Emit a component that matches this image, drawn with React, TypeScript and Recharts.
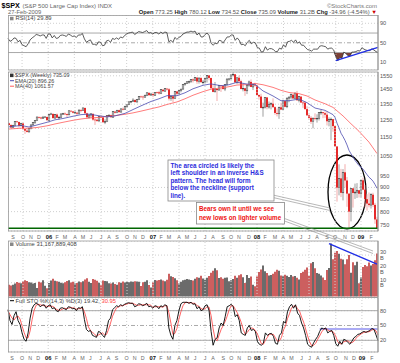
import React from 'react';
import {
  ComposedChart, Bar, Line, Area, XAxis, YAxis, CartesianGrid,
  ReferenceLine, ReferenceArea, Cell,
} from 'recharts';

// weekly bars, week ending Fri 19-Aug-2005 ... Fri 27-Feb-2009
const firstOpen = 1230;
const closes = [
  1219.7, 1205.1, 1218.0, 1241.5, 1237.9, 1215.3, 1228.8, 1195.9, 1186.6, 1179.6,
  1198.4, 1220.1, 1234.7, 1248.3, 1268.3, 1265.1, 1259.4, 1267.3, 1268.7, 1248.3,
  1285.5, 1287.6, 1261.5, 1283.7, 1264.0, 1267.0, 1287.2, 1289.4, 1287.2, 1281.4,
  1307.3, 1303.0, 1294.9, 1295.5, 1289.1, 1311.3, 1310.6, 1325.8, 1291.2, 1267.0,
  1280.2, 1288.2, 1252.3, 1251.5, 1244.5, 1270.2, 1265.5, 1236.2, 1240.3, 1278.6,
  1279.4, 1266.7, 1302.3, 1295.1, 1311.0, 1298.9, 1319.7, 1314.8, 1335.9, 1349.6,
  1365.6, 1368.6, 1377.3, 1364.3, 1380.9, 1401.2, 1400.6, 1396.7, 1409.8, 1427.1,
  1410.8, 1418.3, 1409.7, 1430.7, 1430.5, 1422.2, 1448.4, 1438.1, 1455.5, 1451.2,
  1387.2, 1402.8, 1387.0, 1436.1, 1420.9, 1443.8, 1452.9, 1484.4, 1494.1, 1505.6,
  1505.9, 1522.8, 1515.7, 1536.3, 1507.7, 1532.9, 1502.6, 1503.4, 1530.4, 1552.5,
  1534.1, 1459.0, 1433.1, 1453.6, 1445.9, 1479.4, 1474.0, 1453.6, 1484.3, 1525.8,
  1526.8, 1557.6, 1561.8, 1500.6, 1535.3, 1509.7, 1453.7, 1458.7, 1440.7, 1481.1,
  1504.7, 1468.0, 1484.5, 1478.5, 1411.6, 1401.0, 1325.2, 1330.6, 1395.4, 1331.3,
  1350.0, 1353.1, 1330.6, 1293.4, 1288.1, 1329.5, 1315.2, 1370.4, 1332.8, 1390.3,
  1397.8, 1413.9, 1388.3, 1425.4, 1375.9, 1400.4, 1360.7, 1360.0, 1317.9, 1278.4,
  1262.9, 1239.5, 1260.7, 1257.8, 1260.3, 1296.3, 1298.2, 1292.2, 1282.8, 1242.3,
  1251.7, 1255.1, 1213.3, 1099.2, 899.2, 940.6, 876.8, 968.8, 931.0, 873.3,
  800.0, 896.2, 876.1, 879.7, 887.9, 872.8, 931.8, 890.4, 850.1, 832.0,
  825.9, 868.6, 826.8, 770.1, 735.09,
];
const highs = [
  1234, 1225, 1221, 1243, 1245, 1240, 1233, 1234, 1198, 1198,
  1201, 1224, 1237, 1249, 1270, 1272, 1270, 1275, 1273, 1270,
  1287, 1295, 1290, 1286, 1290, 1275, 1290, 1294, 1297, 1289,
  1310, 1310, 1306, 1309, 1296, 1318, 1318, 1326, 1326, 1295,
  1286, 1291, 1289, 1262, 1258, 1272, 1280, 1273, 1254, 1280,
  1286, 1283, 1303, 1302, 1312, 1314, 1320, 1329, 1340, 1350,
  1367, 1371, 1390, 1382, 1383, 1403, 1407, 1407, 1415, 1431,
  1428, 1427, 1430, 1432, 1435, 1441, 1449, 1453, 1457, 1461,
  1460, 1410, 1409, 1438, 1439, 1445, 1453, 1485, 1498, 1510,
  1514, 1523, 1530, 1540, 1540, 1539, 1541, 1518, 1531, 1556,
  1555, 1534, 1488, 1504, 1456, 1480, 1481, 1481, 1485, 1530,
  1532, 1561, 1576, 1563, 1536, 1552, 1521, 1492, 1461, 1488,
  1515, 1523, 1485, 1499, 1472, 1416, 1420, 1360, 1396, 1395,
  1368, 1362, 1389, 1336, 1321, 1334, 1359, 1380, 1376, 1395,
  1400, 1422, 1416, 1426, 1440, 1406, 1406, 1370, 1370, 1336,
  1285, 1274, 1266, 1291, 1285, 1297, 1314, 1300, 1304, 1304,
  1266, 1265, 1255, 1215, 1097, 1007, 985, 984, 1008, 947,
  875, 896, 896, 917, 919, 888, 935, 944, 911, 871,
  878, 875, 877, 835, 780.12,
];
const lows = [
  1216, 1201, 1201, 1217, 1232, 1205, 1211, 1191, 1168, 1176,
  1175, 1194, 1217, 1226, 1246, 1258, 1254, 1256, 1262, 1248,
  1245, 1280, 1258, 1258, 1262, 1253, 1262, 1283, 1280, 1268,
  1280, 1298, 1291, 1290, 1280, 1284, 1298, 1308, 1290, 1256,
  1258, 1262, 1245, 1220, 1238, 1237, 1262, 1234, 1225, 1237,
  1268, 1264, 1266, 1290, 1292, 1295, 1297, 1310, 1313, 1327,
  1345, 1358, 1366, 1360, 1362, 1379, 1395, 1379, 1395, 1406,
  1405, 1408, 1397, 1405, 1420, 1415, 1418, 1433, 1435, 1443,
  1374, 1372, 1364, 1384, 1411, 1416, 1431, 1449, 1476, 1490,
  1491, 1497, 1500, 1513, 1490, 1492, 1500, 1485, 1503, 1500,
  1517, 1457, 1431, 1432, 1371, 1445, 1433, 1449, 1439, 1477,
  1513, 1523, 1546, 1500, 1489, 1492, 1450, 1437, 1406, 1418,
  1469, 1467, 1446, 1471, 1411, 1380, 1323, 1270, 1322, 1317,
  1321, 1316, 1326, 1282, 1272, 1257, 1312, 1315, 1330, 1324,
  1363, 1383, 1386, 1386, 1373, 1362, 1359, 1326, 1315, 1277,
  1253, 1226, 1200, 1248, 1234, 1247, 1282, 1261, 1263, 1217,
  1212, 1133, 1180, 1099, 840, 866, 859, 845, 900, 819,
  741, 763, 816, 851, 855, 857, 857, 888, 817, 804,
  817, 812, 818, 754, 734.52,
];
// weekly volume, billions of shares
const volumes = [
  8.5, 8.0, 8.6, 9.5, 10.5, 10.0, 9.6, 11.0, 11.8, 11.2,
  10.4, 10.2, 9.4, 9.8, 6.2, 10.6, 10.2, 11.8, 7.8, 6.0,
  9.8, 11.6, 12.8, 11.5, 11.0, 10.6, 10.0, 9.6, 10.4, 11.2,
  11.8, 10.2, 10.6, 9.4, 9.8, 10.8, 10.4, 11.0, 12.4, 13.2,
  10.6, 9.8, 12.6, 12.2, 11.4, 10.0, 8.2, 11.6, 11.2, 11.0,
  9.6, 9.4, 10.2, 9.0, 8.6, 10.4, 10.0, 10.8, 10.2, 10.6,
  10.4, 10.8, 10.6, 11.0, 10.8, 10.6, 7.6, 10.4, 10.6, 11.8,
  8.4, 6.6, 10.2, 12.0, 11.6, 12.0, 12.4, 11.6, 11.0, 12.2,
  16.4, 14.6, 14.2, 13.2, 11.8, 9.4, 10.6, 11.8, 12.2, 12.6,
  12.4, 12.0, 11.6, 12.8, 14.0, 13.6, 15.0, 13.0, 12.2, 13.6,
  14.8, 17.2, 18.6, 20.4, 19.0, 13.4, 14.0, 12.8, 13.6, 13.8,
  11.0, 11.8, 12.6, 15.0, 13.6, 15.4, 16.2, 14.0, 9.8, 15.6,
  13.4, 14.4, 8.6, 7.4, 14.4, 17.8, 19.6, 22.4, 18.2, 17.0,
  15.2, 15.6, 16.4, 18.0, 19.4, 18.6, 15.2, 14.6, 15.8, 15.0,
  14.2, 15.6, 14.4, 14.8, 13.6, 12.4, 17.0, 18.0, 19.4, 21.0,
  15.0, 24.0, 25.0, 20.4, 17.0, 16.4, 15.2, 13.8, 12.0, 19.2,
  20.6, 38.4, 27.0, 31.6, 33.0, 31.0, 27.4, 26.8, 23.4, 27.0,
  30.0, 17.2, 24.8, 22.6, 25.2, 9.6, 13.8, 21.4, 22.8, 22.0,
  24.6, 22.4, 23.6, 26.2, 31.2,
];
const rsi = [
  59, 53, 55, 60, 59, 52, 55, 46, 44, 42,
  48, 56, 60, 63, 67, 66, 64, 66, 66, 59,
  68, 68, 60, 65, 59, 60, 65, 66, 65, 63,
  68, 66, 63, 64, 61, 66, 66, 69, 58, 51,
  54, 56, 47, 47, 45, 52, 51, 44, 45, 54,
  55, 51, 59, 57, 60, 57, 62, 60, 65, 68,
  70, 71, 72, 67, 70, 73, 72, 71, 73, 75,
  70, 71, 68, 71, 71, 68, 72, 69, 72, 71,
  52, 55, 51, 61, 57, 61, 63, 68, 70, 72,
  72, 74, 72, 74, 66, 70, 62, 62, 67, 70,
  65, 49, 45, 49, 48, 55, 54, 50, 56, 62,
  62, 66, 66, 55, 60, 55, 46, 47, 44, 51,
  55, 48, 51, 50, 40, 39, 31, 32, 42, 35,
  38, 38, 36, 32, 32, 39, 37, 46, 41, 52,
  53, 55, 51, 56, 49, 52, 45, 45, 40, 36,
  35, 33, 37, 37, 37, 43, 44, 43, 42, 37,
  39, 39, 35, 22, 13, 20, 18, 31, 28, 24,
  22, 31, 31, 32, 34, 33, 40, 37, 35, 34,
  34, 38, 35, 32, 29.89,
];
const stoK = [
  82, 60, 52, 70, 78, 60, 52, 35, 22, 18,
  35, 65, 85, 92, 95, 93, 88, 91, 92, 85,
  90, 92, 84, 86, 80, 78, 85, 86, 84, 82,
  88, 87, 84, 85, 80, 86, 85, 88, 62, 42,
  38, 40, 30, 28, 26, 38, 36, 30, 26, 40,
  60, 65, 82, 86, 90, 88, 92, 90, 93, 95,
  96, 95, 95, 88, 90, 94, 93, 90, 92, 95,
  88, 89, 85, 90, 89, 84, 90, 88, 92, 90,
  45, 30, 22, 50, 60, 80, 94, 97, 97, 97,
  95, 97, 93, 94, 84, 88, 80, 82, 90, 92,
  80, 38, 10, 22, 25, 45, 55, 50, 68, 88,
  90, 93, 88, 68, 72, 60, 35, 32, 30, 45,
  50, 40, 42, 38, 18, 12, 10, 14, 35, 30,
  33, 34, 28, 14, 12, 30, 35, 58, 55, 78,
  88, 93, 85, 92, 75, 70, 55, 45, 30, 12,
  8, 6, 15, 22, 28, 38, 45, 43, 45, 35,
  38, 40, 30, 13, 8, 18, 12, 22, 20, 16,
  12, 18, 25, 28, 32, 33, 36, 38, 36, 38,
  40, 44, 42, 31, 19.42,
];
const stoD = [
  80, 72, 65, 61, 67, 69, 63, 49, 36, 25,
  25, 39, 62, 81, 91, 93, 92, 91, 90, 89,
  89, 89, 89, 87, 83, 81, 81, 83, 85, 84,
  85, 86, 86, 85, 83, 84, 84, 86, 78, 64,
  47, 40, 36, 33, 28, 31, 33, 35, 31, 32,
  42, 55, 69, 78, 86, 88, 90, 90, 92, 93,
  95, 95, 95, 93, 91, 91, 92, 92, 92, 92,
  92, 91, 87, 88, 88, 88, 88, 87, 90, 90,
  76, 55, 32, 34, 44, 63, 78, 90, 96, 97,
  96, 96, 95, 95, 90, 89, 84, 83, 84, 88,
  87, 70, 43, 23, 19, 31, 42, 50, 58, 69,
  82, 90, 90, 83, 76, 67, 56, 42, 32, 36,
  42, 45, 44, 40, 33, 23, 13, 12, 20, 26,
  33, 32, 32, 25, 18, 19, 26, 41, 49, 64,
  74, 86, 89, 90, 84, 79, 67, 57, 43, 29,
  17, 9, 10, 14, 22, 29, 37, 42, 44, 41,
  39, 38, 36, 28, 17, 13, 13, 17, 18, 19,
  16, 15, 18, 24, 28, 31, 34, 36, 37, 37,
  38, 41, 42, 39, 30.95,
];
const emaWeeks = [
  0, 1, 6, 10, 14, 19, 23, 27, 32, 36, 40, 45, 49, 53, 58, 62, 66, 71, 75, 79,
  84, 88, 92, 97, 101, 106, 110, 114, 119, 123, 127, 132, 136, 140, 145, 149, 153, 158, 162, 163,
  164, 165, 166, 167, 168, 169, 170, 171, 172, 173, 174, 175, 176, 177, 178, 179, 180, 181, 182, 183, 184,
];
const emaValues = [
  1209, 1210, 1217, 1208, 1220, 1236, 1251, 1259, 1273, 1283, 1286, 1276, 1269, 1275, 1291, 1315, 1339, 1368, 1386, 1407,
  1407, 1427, 1455, 1480, 1490, 1477, 1484, 1502, 1489, 1487, 1440, 1405, 1373, 1373, 1384, 1360, 1325, 1310, 1283, 1266,
  1231, 1203, 1172, 1153, 1132, 1107, 1078, 1060, 1043, 1027, 1014, 1001, 994, 984, 971, 958, 946, 938, 928, 913, 896.26,
];
const maWeeks = [
  0, 1, 6, 10, 14, 19, 23, 27, 32, 36, 40, 45, 49, 53, 58, 62, 66, 71, 75, 79, 84, 88,
  92, 97, 101, 106, 110, 114, 119, 123, 127, 132, 136, 140, 145, 149, 153, 158, 162, 167, 171, 175, 180, 184,
];
const maValues = [
  1196, 1197, 1201, 1201, 1205, 1215, 1226, 1236, 1248, 1256, 1262, 1266, 1272, 1277, 1285, 1294, 1305, 1320, 1332, 1348, 1365, 1386,
  1410, 1435, 1452, 1461, 1470, 1482, 1485, 1493, 1484, 1465, 1444, 1429, 1421, 1405, 1378, 1353, 1329, 1275, 1227, 1183, 1122, 1061.57,
];
const monthWeeks = [
  2, 7, 11, 15, 20, 24, 28, 33, 37, 41, 46, 50, 54, 59, 63, 67, 72, 76, 80, 85, 89,
  93, 98, 102, 107, 111, 115, 120, 124, 128, 133, 137, 141, 146, 150, 154, 159, 163, 168, 172, 176, 181,
];
const monthLabels = [
  'S', 'O', 'N', 'D', '06', 'F', 'M', 'A', 'M', 'J', 'J', 'A', 'S', 'O', 'N', 'D', '07', 'F', 'M', 'A', 'M',
  'J', 'J', 'A', 'S', 'O', 'N', 'D', '08', 'F', 'M', 'A', 'M', 'J', 'J', 'A', 'S', 'O', 'N', 'D', '09', 'F',
];
const quarterWeeks = [7, 20, 33, 46, 59, 72, 85, 98, 111, 124, 137, 150, 163, 176];
const priceTicks = [750, 800, 850, 900, 950, 1000, 1050, 1100, 1150, 1200, 1250, 1300, 1350, 1400, 1450, 1500, 1550];
const rsiTicks = [10, 30, 50, 70, 90];
const volTicks = [10, 20, 30];
const stoTicks = [20, 50, 80];

const emaByWeek = new Map(emaWeeks.map((w, k) => [w, emaValues[k]]));
const maByWeek = new Map(maWeeks.map((w, k) => [w, maValues[k]]));
const monthByWeek = new Map(monthWeeks.map((w, k) => [w, monthLabels[k]]));

const rows = closes.map((close, i) => {
  const open = i === 0 ? firstOpen : closes[i - 1];
  return {
    i, open, close, high: highs[i], low: lows[i],
    hl: [lows[i], highs[i]],
    down: close < open,
    vol: volumes[i], rsi: rsi[i], k: stoK[i], d: stoD[i],
    ema: emaByWeek.has(i) ? emaByWeek.get(i) : null,
    ma: maByWeek.has(i) ? maByWeek.get(i) : null,
  };
});

const FONT = '"Liberation Sans", Arial, Helvetica, sans-serif';
const LEFT = 8;
const AXIS_W = 22;
const margin = { top: 0, right: 0, bottom: 0, left: LEFT };
const axisTick = { fontSize: 5.6, fill: '#555' };
const gridDots = '1 2';

function Candle(props: any) {
  const { x, y, width, height, payload } = props;
  if (!payload || !isFinite(y) || !isFinite(height)) return null;
  const { open, close, high, low, down } = payload;
  const lh = Math.log(high);
  const span = lh - Math.log(low) || 1;
  const py = (v: number) => y + ((lh - Math.log(v)) / span) * height;
  const cx = x + width / 2;
  const top = py(Math.max(open, close));
  const bot = py(Math.min(open, close));
  const bw = 1.6;
  return (
    <g>
      <line x1={cx} x2={cx} y1={y} y2={y + height} stroke={down ? '#ee8888' : '#777'} strokeWidth={0.7} />
      <rect
        x={cx - bw / 2} y={top} width={bw} height={Math.max(bot - top, 0.7)}
        fill={down ? '#e00000' : '#fff'} stroke={down ? 'none' : '#333'} strokeWidth={0.5}
      />
    </g>
  );
}

function MonthTick({ x, y, payload }: any) {
  const label = monthByWeek.get(payload.value) || '';
  const yr = /\d/.test(label);
  return (
    <text x={x} y={y + 7.8} textAnchor="middle" fontSize={yr ? 5.8 : 5.3}
      fontWeight={yr ? 700 : 400} fill={yr ? '#111' : '#666'}>
      {label}
    </text>
  );
}

function Oval(props: any) {
  const { x, y, width, height } = props;
  return (
    <ellipse cx={x + width / 2} cy={y + height / 2} rx={width / 2} ry={height / 2}
      fill="none" stroke="#000" strokeWidth={1.3} />
  );
}

const quarterLines = quarterWeeks.map((q) => (
  <ReferenceLine key={'q' + q} x={q} stroke="#cfcfcf" strokeDasharray={gridDots} />
));

export default function App() {
  return (
    <div style={{ position: 'relative', width: 400, height: 363, background: '#fff', fontFamily: FONT, overflow: 'hidden' }}>
      <style>{'body{margin:0}'}</style>

      {/* RSI panel */}
      <div style={{ position: 'absolute', left: 0, top: 15 }}>
        <ComposedChart width={400} height={55} data={rows} margin={margin} barCategoryGap={0}>
          <CartesianGrid vertical={false} stroke="#cfcfcf" strokeDasharray={gridDots} />
          <XAxis dataKey="i" hide />
          <YAxis orientation="right" width={AXIS_W} domain={[-5.8, 107]} ticks={rsiTicks} allowDataOverflow
            tickSize={0} tickMargin={2} tick={axisTick} tickLine={false} axisLine={{ stroke: '#999' }} />
          {quarterLines}
          <ReferenceLine y={70} stroke="#aaa" />
          <ReferenceLine y={30} stroke="#aaa" />
          <ReferenceLine y={50} stroke="#aaa" strokeDasharray="4 2 1 2" />
          <Area dataKey={(d: any) => [Math.min(d.rsi, 30), 30]} stroke="none" fill="#7b4036" fillOpacity={1}
            isAnimationActive={false} />
          <Line dataKey="rsi" stroke="#333" strokeWidth={0.8} dot={false} isAnimationActive={false} />
          <ReferenceLine segment={[{ x: 163, y: 13.5 }, { x: 184, y: 40.8 }]} stroke="#1f2ee6" strokeWidth={1.3} />
        </ComposedChart>
      </div>

      {/* price panel */}
      <div style={{ position: 'absolute', left: 0, top: 72 }}>
        <ComposedChart width={400} height={169} data={rows} margin={margin} barCategoryGap={0}>
          <CartesianGrid vertical={false} stroke="#cfcfcf" strokeDasharray={gridDots} />
          <XAxis dataKey="i" ticks={monthWeeks} interval={0} height={10} tickSize={0} tickMargin={0}
            tickLine={false} axisLine={false} tick={(p: any) => <MonthTick {...p} />} />
          <YAxis orientation="right" width={AXIS_W} scale="log" domain={[728, 1579]} ticks={priceTicks}
            allowDataOverflow tickSize={0} tickMargin={2} tick={axisTick} tickLine={false} axisLine={{ stroke: '#999' }} />
          {quarterLines}
          <Bar dataKey="hl" shape={(p: any) => <Candle {...p} />} isAnimationActive={false} />
          <Line dataKey="ma" connectNulls stroke="#ff5a5a" strokeWidth={0.8} dot={false} isAnimationActive={false} />
          <Line dataKey="ema" connectNulls stroke="#4b4bb0" strokeWidth={0.8} dot={false} isAnimationActive={false} />
          <ReferenceLine y={738} stroke="#006600" strokeWidth={1.5} />
          <ReferenceArea x1={160} x2={178} y1={736} y2={1054} shape={(p: any) => <Oval {...p} />} />
        </ComposedChart>
      </div>

      {/* volume panel */}
      <div style={{ position: 'absolute', left: 0, top: 241 }}>
        <ComposedChart width={400} height={56} data={rows} margin={margin} barCategoryGap={0}>
          <CartesianGrid vertical={false} stroke="#cfcfcf" strokeDasharray={gridDots} />
          <XAxis dataKey="i" hide />
          <YAxis orientation="right" width={AXIS_W} domain={[-0.36, 40.2]} ticks={volTicks} allowDataOverflow
            tickFormatter={(v: number) => `${v} B`} tickSize={0} tickMargin={2} tick={axisTick}
            tickLine={false} axisLine={{ stroke: '#999' }} />
          {quarterLines}
          <Bar dataKey="vol" isAnimationActive={false}>
            {rows.map((r) => (
              <Cell key={r.i} fill={r.down ? '#cc5f5f' : '#6b6b6b'} />
            ))}
          </Bar>
          <ReferenceLine segment={[{ x: 160, y: 38.3 }, { x: 184, y: 23.4 }]} stroke="#1f2ee6" strokeWidth={1.3} />
        </ComposedChart>
      </div>

      {/* stochastics panel */}
      <div style={{ position: 'absolute', left: 0, top: 298 }}>
        <ComposedChart width={400} height={64} data={rows} margin={margin} barCategoryGap={0}>
          <CartesianGrid vertical={false} stroke="#cfcfcf" strokeDasharray={gridDots} />
          <XAxis dataKey="i" ticks={monthWeeks} interval={0} height={10} tickSize={0} tickMargin={0}
            tickLine={false} axisLine={false} tick={(p: any) => <MonthTick {...p} />} />
          <YAxis orientation="right" width={AXIS_W} domain={[-3.7, 105.7]} ticks={stoTicks} allowDataOverflow
            tickSize={0} tickMargin={2} tick={axisTick} tickLine={false} axisLine={{ stroke: '#999' }} />
          {quarterLines}
          <ReferenceLine y={80} stroke="#aaa" />
          <ReferenceLine y={20} stroke="#aaa" />
          <ReferenceLine y={50} stroke="#aaa" strokeDasharray="4 2 1 2" />
          <ReferenceLine segment={[{ x: 155, y: 43 }, { x: 184, y: 43 }]} stroke="#8f8ff0" strokeWidth={1.4} />
          <Line dataKey="d" stroke="#ff3b3b" strokeWidth={0.8} dot={false} isAnimationActive={false} />
          <Line dataKey="k" stroke="#000" strokeWidth={0.9} dot={false} isAnimationActive={false} />
        </ComposedChart>
      </div>

      {/* frames, titles, legends and notes */}
      <svg width={400} height={363} style={{ position: 'absolute', left: 0, top: 0, pointerEvents: 'none' }}
        fontFamily={FONT}>
        <rect x={8.5} y={15.5} width={369.5} height={54.5} fill="none" stroke="#999" strokeWidth={0.8} />
        <rect x={8.5} y={72} width={369.5} height={159} fill="none" stroke="#999" strokeWidth={0.8} />
        <rect x={8.5} y={241} width={369.5} height={56.5} fill="none" stroke="#999" strokeWidth={0.8} />
        <rect x={8.5} y={297.5} width={369.5} height={54.5} fill="none" stroke="#999" strokeWidth={0.8} />

        <text x={1.5} y={8} fontSize={7.2} fontWeight={700} fill="#000">$SPX</text>
        <text x={22.5} y={8} fontSize={6} fill="#666">{'(S&P 500 Large Cap Index) INDX'}</text>
        <text x={377} y={7.5} fontSize={6} fill="#777" textAnchor="end">©StockCharts.com</text>
        <text x={8} y={14.3} fontSize={5.8} fill="#666">27-Feb-2009</text>
        <text x={377} y={14.3} fontSize={5.8} fill="#555" textAnchor="end">
          <tspan fontWeight={700} fill="#222">Open</tspan><tspan> 773.25 </tspan>
          <tspan fontWeight={700} fill="#222">High</tspan><tspan> 780.12 </tspan>
          <tspan fontWeight={700} fill="#222">Low</tspan><tspan> 734.52 </tspan>
          <tspan fontWeight={700} fill="#222">Close</tspan><tspan> 735.09 </tspan>
          <tspan fontWeight={700} fill="#222">Volume</tspan><tspan> 31.2B </tspan>
          <tspan fontWeight={700} fill="#222">Chg</tspan><tspan> -34.96 (-4.54%) </tspan>
          <tspan fill="#cc0000">▼</tspan>
        </text>

        <rect x={10} y={16.8} width={3.5} height={3.5} fill="#888" />
        <text x={15.5} y={20.2} fontSize={5.8} fill="#444">RSI(14) 29.89</text>

        <rect x={10} y={73.6} width={3.5} height={3.5} fill="#333" />
        <text x={15} y={77} fontSize={5.4} fill="#444">$SPX (Weekly) 735.09</text>
        <line x1={10} x2={14} y1={80.7} y2={80.7} stroke="#4b4bb0" strokeWidth={1} />
        <text x={15} y={82.6} fontSize={5.4} fill="#444">EMA(20) 896.26</text>
        <line x1={10} x2={14} y1={86.2} y2={86.2} stroke="#ff5a5a" strokeWidth={1} />
        <text x={15} y={88.1} fontSize={5.4} fill="#444">MA(40) 1061.57</text>

        <rect x={10} y={242.5} width={3.5} height={3.5} fill="#888" />
        <text x={15.5} y={246} fontSize={5.8} fill="#444">Volume 31,167,889,408</text>

        <line x1={10} x2={14} y1={300.7} y2={300.7} stroke="#000" strokeWidth={1} />
        <text x={15.5} y={302.6} fontSize={5.8} fill="#444">
          Full STO %K(14,3) %D(3) 19.42, <tspan fill="#ff3b3b">30.95</tspan>
        </text>

        {/* callout leaders */}
        <line x1={273} y1={195} x2={330} y2={208} stroke="#888" strokeWidth={0.6} />
        <line x1={273} y1={197.5} x2={330} y2={210.5} stroke="#888" strokeWidth={0.6} />
        <line x1={284.5} y1={218.5} x2={373} y2={251} stroke="#888" strokeWidth={0.6} />
        <line x1={284.5} y1={221} x2={373} y2={253.5} stroke="#888" strokeWidth={0.6} />

        <rect x={168} y={160} width={106} height={41} fill="#fff" stroke="#888" strokeWidth={0.8} />
        <g fontSize={6.3} fontWeight={700} fill="#2b2bdc">
          <text x={170.5} y={167.5}>The area circled is likely the</text>
          <text x={170.5} y={175}>left shoulder in an inverse H&amp;S</text>
          <text x={170.5} y={182.5}>pattern.  The head will form</text>
          <text x={170.5} y={190}>below the neckline (support</text>
          <text x={170.5} y={197.5}>line).</text>
        </g>

        <rect x={196.5} y={202.5} width={88} height={21.5} fill="#fff" stroke="#888" strokeWidth={0.8} />
        <g fontSize={6.3} fontWeight={700} fill="#ee1111">
          <text x={199} y={211.3}>Bears own it until we see</text>
          <text x={199} y={220.2}>new lows on lighter volume</text>
        </g>
      </svg>
    </div>
  );
}
